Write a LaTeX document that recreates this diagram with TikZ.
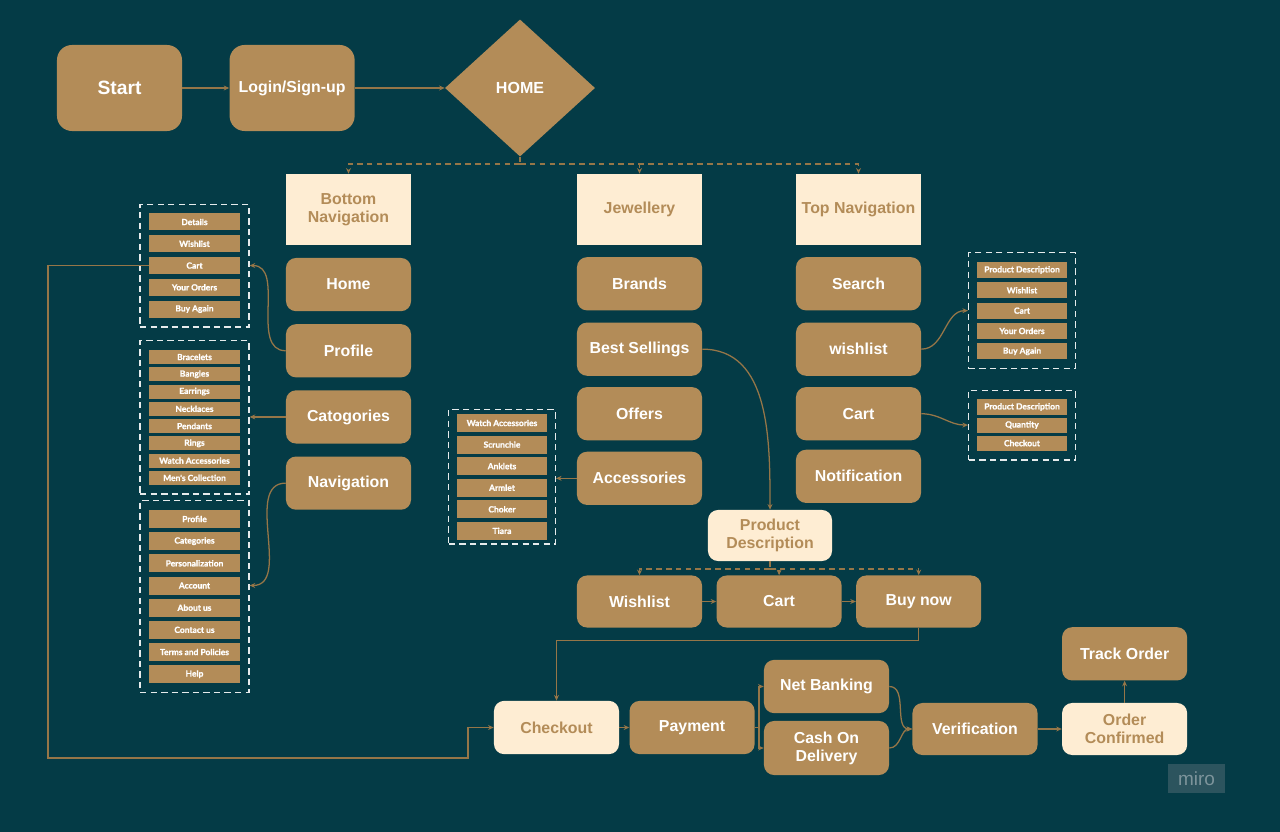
\documentclass[tikz,border=0pt]{standalone}
\usepackage{fontspec}
\setmainfont{Liberation Sans}
\newfontfamily\listfont{Lato}[BoldFeatures={FakeBold=1.2}]
\usetikzlibrary{arrows.meta,positioning,fit,shapes.geometric}
\definecolor{bgteal}{RGB}{4,59,70}
\definecolor{gold}{RGB}{179,140,88}
\definecolor{cream}{RGB}{254,237,211}
\definecolor{wire}{RGB}{150,118,72}
\definecolor{mirobox}{RGB}{44,84,94}
\definecolor{mirotext}{RGB}{125,148,155}

\begin{document}
\begin{tikzpicture}[
                x=0.025cm, y=0.025cm,
                box/.style={fill=gold, text=white, rounded corners=0.25cm, minimum width=3.125cm, minimum height=1.33cm, inner sep=0pt, align=center, font=\bfseries\fontsize{11.3}{12.8}\selectfont},
                headbox/.style={fill=cream, text=gold, minimum width=3.125cm, minimum height=1.775cm, inner sep=0pt, align=center, font=\bfseries\fontsize{11.3}{12.8}\selectfont},
                softbox/.style={headbox, rounded corners=0.25cm, minimum height=1.3cm},
                item/.style={fill=gold, text=white, minimum width=2.275cm, inner sep=0pt, font=\listfont\bfseries\fontsize{6}{6.5}\selectfont},
                dashgroup/.style={draw=white!90!bgteal, line width=1pt, dash pattern=on 4.5pt off 3pt, inner xsep=0.215cm, inner ysep=0.225cm},
                arrow/.style={-{Stealth[length=4pt,width=3.5pt]}, draw=wire, line width=0.9pt},
                dasharrow/.style={arrow, dash pattern=on 4pt off 3pt},
                dashwire/.style={draw=wire, line width=0.9pt, dash pattern=on 4pt off 3pt}
            ]

            \fill[bgteal] (0,0) rectangle (1280,-832);
            \useasboundingbox (0,0) rectangle (1280,-832);

            % top row
            \node[box, minimum height=2.15cm, rounded corners=0.375cm, font=\bfseries\fontsize{13.7}{15}\selectfont] (start) at (119.5,-88) {Start};
            \node[box, minimum height=2.15cm, rounded corners=0.375cm, right=1.175cm of start] (login) {Login/Sign-up};
            \node[diamond, fill=gold, text=white, minimum width=3.75cm, minimum height=3.425cm, inner sep=0pt, font=\bfseries\fontsize{11.4}{13}\selectfont] (home) at (520,-88) {HOME};

            \node[headbox] (bottomnav) at (348.5,-209.5) {Bottom\\Navigation};
            \node[headbox] (jewel) at (639.5,-209.5) {Jewellery};
            \node[headbox] (topnav) at (858.5,-209.5) {Top Navigation};

            % bottom navigation
            \node[box, below=0.31cm of bottomnav] (navhome) {Home};
            \node[box, below=0.31cm of navhome] (profile) {Profile};
            \node[box, below=0.31cm of profile] (catog) {Catogories};
            \node[box, below=0.31cm of catog] (navig) {Navigation};

            % jewellery
            \node[box, below=0.29cm of jewel] (brands) {Brands};
            \node[box, below=0.29cm of brands] (bestsell) {Best Sellings};
            \node[box, below=0.27cm of bestsell] (offers) {Offers};
            \node[box, below=0.27cm of offers] (access) {Accessories};

            % top navigation
            \node[box, below=0.29cm of topnav] (search) {Search};
            \node[box, below=0.29cm of search] (wishtop) {wishlist};
            \node[box, below=0.27cm of wishtop] (carttop) {Cart};
            \node[box, below=0.22cm of carttop] (notif) {Notification};

            % profile list
            \node[item, minimum height=0.425cm] (pdet) at (194.5,-222) {Details};
            \node[item, minimum height=0.425cm, below=0.105cm of pdet] (pwish) {Wishlist};
            \node[item, minimum height=0.425cm, below=0.105cm of pwish] (pcart) {Cart};
            \node[item, minimum height=0.425cm, below=0.105cm of pcart] (porders) {Your Orders};
            \node[item, minimum height=0.425cm, below=0.105cm of porders] (pagain) {Buy Again};
            \node[dashgroup, fit=(pdet)(pagain)] (profgrp) {};

            % categories list
            \node[item, minimum height=0.35cm] (cbrace) at (194.5,-357) {Bracelets};
            \node[item, minimum height=0.35cm, below=0.0675cm of cbrace] (cbang) {Bangles};
            \node[item, minimum height=0.35cm, below=0.0675cm of cbang] (cear) {Earrings};
            \node[item, minimum height=0.35cm, below=0.0675cm of cear] (cneck) {Necklaces};
            \node[item, minimum height=0.35cm, below=0.0675cm of cneck] (cpend) {Pendants};
            \node[item, minimum height=0.35cm, below=0.0675cm of cpend] (crings) {Rings};
            \node[item, minimum height=0.35cm, below=0.0675cm of crings] (cwatch) {Watch Accessories};
            \node[item, minimum height=0.35cm, below=0.0675cm of cwatch] (cmen) {Men's Collection};
            \node[dashgroup, fit=(cbrace)(cmen)] (catgrp) {};

            % navigation list
            \node[item, minimum height=0.45cm] (nprof) at (194.5,-519) {Profile};
            \node[item, minimum height=0.45cm, below=0.09cm of nprof] (ncat) {Categories};
            \node[item, minimum height=0.45cm, below=0.09cm of ncat] (npers) {Personalization};
            \node[item, minimum height=0.45cm, below=0.09cm of npers] (nacc) {Account};
            \node[item, minimum height=0.45cm, below=0.09cm of nacc] (nabout) {About us};
            \node[item, minimum height=0.45cm, below=0.09cm of nabout] (ncontact) {Contact us};
            \node[item, minimum height=0.45cm, below=0.09cm of ncontact] (nterms) {Terms and Policies};
            \node[item, minimum height=0.45cm, below=0.09cm of nterms] (nhelp) {Help};
            \node[dashgroup, fit=(nprof)(nhelp)] (navgrp) {};

            % accessories list
            \node[item, minimum height=0.45cm, minimum width=2.25cm] (awatch) at (502,-423) {Watch Accessories};
            \node[item, minimum height=0.45cm, minimum width=2.25cm, below=0.075cm of awatch] (ascrun) {Scrunchie};
            \node[item, minimum height=0.45cm, minimum width=2.25cm, below=0.075cm of ascrun] (aank) {Anklets};
            \node[item, minimum height=0.45cm, minimum width=2.25cm, below=0.075cm of aank] (aarm) {Armlet};
            \node[item, minimum height=0.45cm, minimum width=2.25cm, below=0.075cm of aarm] (achoke) {Choker};
            \node[item, minimum height=0.45cm, minimum width=2.25cm, below=0.075cm of achoke] (atiara) {Tiara};
            \node[dashgroup, inner ysep=0.1cm, inner xsep=0.2cm, fit=(awatch)(atiara)] (accgrp) {};

            % wishlist list
            \node[item, minimum height=0.4cm, minimum width=2.25cm] (wpd) at (1022,-270) {Product Description};
            \node[item, minimum height=0.4cm, minimum width=2.25cm, below=0.094cm of wpd] (wwish) {Wishlist};
            \node[item, minimum height=0.4cm, minimum width=2.25cm, below=0.094cm of wwish] (wcart) {Cart};
            \node[item, minimum height=0.4cm, minimum width=2.25cm, below=0.094cm of wcart] (worders) {Your Orders};
            \node[item, minimum height=0.4cm, minimum width=2.25cm, below=0.094cm of worders] (wagain) {Buy Again};
            \node[dashgroup, inner xsep=0.2cm, fit=(wpd)(wagain)] (wishgrp) {};

            % cart list
            \node[item, minimum height=0.375cm, minimum width=2.25cm] (cpd) at (1022,-407) {Product Description};
            \node[item, minimum height=0.375cm, minimum width=2.25cm, below=0.0625cm of cpd] (cquant) {Quantity};
            \node[item, minimum height=0.375cm, minimum width=2.25cm, below=0.0625cm of cquant] (ccheck) {Checkout};
            \node[dashgroup, inner xsep=0.2cm, fit=(cpd)(ccheck)] (cartgrp) {};

            % product and order flow
            \node[softbox, minimum width=3.1cm, minimum height=1.275cm] (prodesc) at (770,-535.5) {Product\\Description};
            \node[box, minimum height=1.3cm] (wishbot) at (639.5,-601.5) {Wishlist};
            \node[box, minimum height=1.3cm, right=0.35cm of wishbot] (cartbot) {Cart};
            \node[box, minimum height=1.3cm, right=0.35cm of cartbot] (buynow) {Buy now};

            \node[softbox, minimum height=1.33cm] (checkout) at (556.5,-727.5) {Checkout};
            \node[box, right=0.25cm of checkout] (payment) {Payment};
            \node[box] (netbank) at (826.5,-686.5) {Net Banking};
            \node[box, minimum height=1.35cm] (cod) at (826.5,-748) {Cash On\\Delivery};
            \node[box, minimum height=1.3cm] (verify) at (975,-729) {Verification};
            \node[softbox, right=0.6cm of verify] (ordconf) {Order\\Confirmed};
            \node[box, above=0.55cm of ordconf] (track) {Track Order};

            \node[fill=mirobox, text=mirotext, minimum width=1.425cm, minimum height=0.725cm, inner sep=0pt, font=\fontsize{13.5}{14}\selectfont] (miro) at (1196.5,-778.5) {miro};

            % connectors
            \draw[arrow] (start) -- (login);
            \draw[arrow] (login) -- (home);

            \coordinate (homesplit) at (520,-164);
            \draw[dashwire] (home.south) -- (homesplit);
            \draw[dasharrow] (homesplit) -| (bottomnav.north);
            \draw[dasharrow] (homesplit) -| (jewel.north);
            \draw[dasharrow] (homesplit) -| (topnav.north);

            \draw[arrow] (profile.west) to[out=180, in=0] (pcart.east -| profgrp.east);
            \draw[arrow] (catog.west) -- (catog.west -| catgrp.east);
            \draw[arrow] (navig.west) to[out=180, in=0] (nacc.east -| navgrp.east);
            \draw[arrow] (access.west) -- (access.west -| accgrp.east);
            \draw[arrow] (bestsell.east) to[out=0, in=90] (prodesc.north);
            \draw[arrow] (wishtop.east) to[out=0, in=180] (wcart.west -| wishgrp.west);
            \draw[arrow] (carttop.east) to[out=0, in=180] (cquant.west -| cartgrp.west);

            \coordinate (prodsplit) at (770,-569);
            \draw[dashwire] (prodesc.south) -- (prodsplit);
            \draw[dasharrow] (prodsplit) -| (wishbot.north);
            \draw[dasharrow] (prodsplit) -| (cartbot.north);
            \draw[dasharrow] (prodsplit) -| (buynow.north);

            \draw[arrow] (wishbot) -- (cartbot);
            \draw[arrow] (cartbot) -- (buynow);
            \draw[arrow] (buynow.south) -- ++(0,-13) -| (checkout.north);

            \coordinate (backleft) at (48,-758);
            \coordinate (backright) at (468,-758);
            \draw[arrow] (pcart.west) -| (backleft) -- (backright) |- (checkout.west);

            \draw[arrow] (checkout) -- (payment);
            \coordinate (paysplit) at (759,-727.5);
            \draw[draw=wire, line width=0.9pt] (payment.east) -- (paysplit);
            \draw[arrow] (paysplit) |- (netbank.west);
            \draw[arrow] (paysplit) |- (cod.west);
            \draw[arrow] (netbank.east) to[out=0, in=180] (verify.west);
            \draw[arrow] (cod.east) to[out=0, in=180] (verify.west);
            \draw[arrow] (verify) -- (ordconf);
            \draw[arrow] (ordconf) -- (track);

        \end{tikzpicture}
\end{document}
